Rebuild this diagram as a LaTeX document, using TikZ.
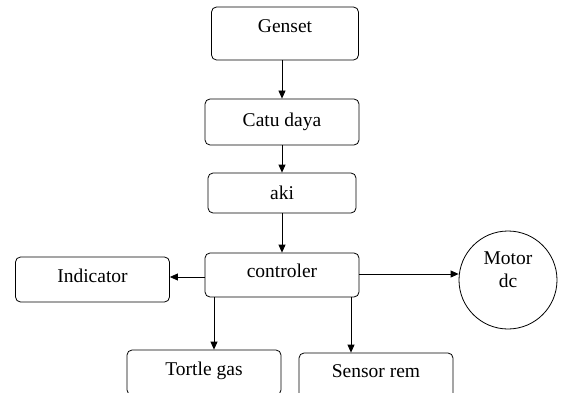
\documentclass[tikz,border=0pt]{standalone}
\usepackage{fontspec}
\setmainfont{Liberation Serif}
\usetikzlibrary{arrows.meta}
\begin{document}
\begin{tikzpicture}[
    x=1pt, y=-1pt,
    >={Triangle[length=8pt,width=7pt]},
    line width=0.8pt,
    font=\fontsize{19.5}{23}\selectfont,
    box/.style={draw, rounded corners=5pt, minimum width=154pt, minimum height=45pt, inner sep=0pt},
    circ/.style={circle, draw, minimum size=98pt, inner sep=0pt, align=center}
]
  \clip (0,0) rectangle (562,393);
  % nodes
  \node[box, minimum width=147pt, minimum height=53pt, text depth=14pt] (G) at (285,33.5) {Genset};
  \node[box, minimum height=46pt] (C) at (282,122) {Catu daya};
  \node[box, minimum width=148pt, minimum height=40pt] (A) at (282,193) {aki};
  \node[box, minimum height=44pt, text depth=8pt] (K) at (282,275) {controler};
  \node[box, text depth=7pt] (I) at (92.5,279.5) {Indicator};
  \node[circ, text depth=20pt] (M) at (508,280) {Motor\\dc};
  \node[box, text depth=8pt] (T) at (204,372.5) {Tortle gas};
  \node[box, text depth=8pt] (S) at (376,375.5) {Sensor rem};

  % edges
  \draw[->] (G.south -| C) -- (C.north);
  \draw[->] (C) -- (A);
  \draw[->] (A) -- (K);
  \draw[->] ([yshift=-2pt]K.west) -- ([yshift=-2pt]K.west -| I.east);
  \draw[->] ([yshift=1pt]K.east) -- ([yshift=1pt]K.east -| M.west);
  \draw[->] ([xshift=-68pt]K.south) -- ([xshift=-68pt]K.south |- T.north);
  \draw[->] ([xshift=69pt]K.south) -- ([xshift=69pt]K.south |- S.north);
\end{tikzpicture}
\end{document}
